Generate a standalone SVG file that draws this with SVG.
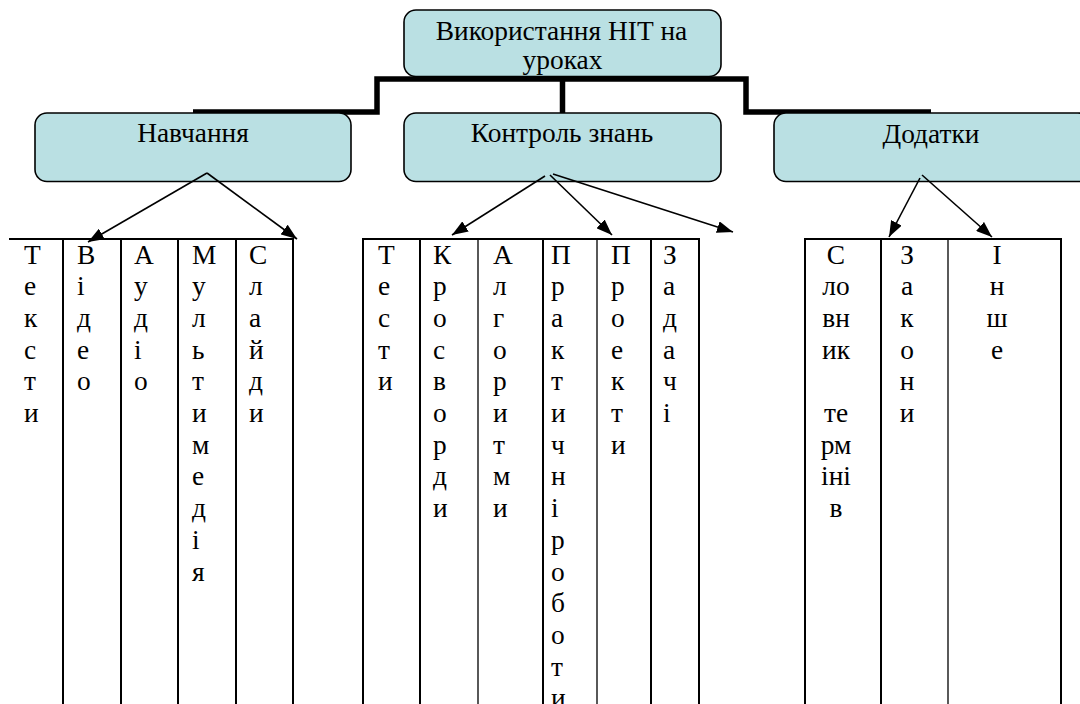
<svg xmlns="http://www.w3.org/2000/svg" width="1080" height="704" viewBox="0 0 1080 704">
<defs>
<style>
.t{font-family:"Liberation Serif","Times New Roman",serif;font-size:27.4px;fill:#000}
.c{text-anchor:middle}
.box{fill:#bae0e3;stroke:#000;stroke-width:1.6}
.thick{fill:none;stroke:#000;stroke-width:5.5;stroke-linejoin:miter}
.arr{fill:none;stroke:#000;stroke-width:1.6}
.grid{stroke:#000;stroke-width:2;fill:none}
.thin{stroke:#000;stroke-width:1.3;fill:none}
</style>
<marker id="ah2" viewBox="0 0 16 12" refX="16" refY="6" markerWidth="16" markerHeight="12" markerUnits="userSpaceOnUse" orient="auto">
<path d="M0,0 L16,6 L0,12 z" fill="#000"/>
</marker>
</defs>
<rect width="1080" height="704" fill="#fff"/>

<g id="tree-links">
<path class="thick" d="M193,112 H377 V79 H746 V112 H931"/>
<path class="thick" d="M562.5,79 V114"/>
</g>

<g id="node-root">
<rect class="box" x="404" y="10" width="317" height="66.5" rx="12"/>
<text class="t c" x="561.5" y="39.5">Використання НІТ на</text>
<text class="t c" x="562.5" y="68.5">уроках</text>
</g>
<g id="node-navchannia">
<rect class="box" x="35" y="113" width="316" height="68.5" rx="12"/>
<text class="t c" x="193" y="142">Навчання</text>
</g>
<g id="node-kontrol">
<rect class="box" x="404" y="113" width="317" height="68.5" rx="12"/>
<text class="t c" x="562" y="142">Контроль знань</text>
</g>
<g id="node-dodatky">
<rect class="box" x="774" y="113" width="316" height="68.5" rx="12"/>
<text class="t c" x="931" y="142.5">Додатки</text>
</g>

<g id="table-navchannia">
<path class="grid" d="M9,239 H294 M63,239 V704 M121,239 V704 M178,239 V704 M236,239 V704 M293,239 V704"/>
<text class="t"><tspan x="24" y="263.5">Т</tspan><tspan x="24" dy="31.7">е</tspan><tspan x="24" dy="31.7">к</tspan><tspan x="24" dy="31.7">с</tspan><tspan x="24" dy="31.7">т</tspan><tspan x="24" dy="31.7">и</tspan></text>
<text class="t"><tspan x="77" y="263.5">В</tspan><tspan x="77" dy="31.7">і</tspan><tspan x="77" dy="31.7">д</tspan><tspan x="77" dy="31.7">е</tspan><tspan x="77" dy="31.7">о</tspan></text>
<text class="t"><tspan x="134" y="263.5">А</tspan><tspan x="134" dy="31.7">у</tspan><tspan x="134" dy="31.7">д</tspan><tspan x="134" dy="31.7">і</tspan><tspan x="134" dy="31.7">о</tspan></text>
<text class="t"><tspan x="192" y="263.5">М</tspan><tspan x="192" dy="31.7">у</tspan><tspan x="192" dy="31.7">л</tspan><tspan x="192" dy="31.7">ь</tspan><tspan x="192" dy="31.7">т</tspan><tspan x="192" dy="31.7">и</tspan><tspan x="192" dy="31.7">м</tspan><tspan x="192" dy="31.7">е</tspan><tspan x="192" dy="31.7">д</tspan><tspan x="192" dy="31.7">і</tspan><tspan x="192" dy="31.7">я</tspan></text>
<text class="t"><tspan x="249" y="263.5">С</tspan><tspan x="249" dy="31.7">л</tspan><tspan x="249" dy="31.7">а</tspan><tspan x="249" dy="31.7">й</tspan><tspan x="249" dy="31.7">д</tspan><tspan x="249" dy="31.7">и</tspan></text>
</g>

<g id="table-kontrol">
<path class="grid" d="M362,239 H700 M363,239 V704 M420,239 V704 M543,239 V704 M651,239 V704 M699,239 V704"/>
<path class="thin" d="M478,239 V704 M597,239 V704"/>
<text class="t"><tspan x="378" y="263.5">Т</tspan><tspan x="378" dy="31.7">е</tspan><tspan x="378" dy="31.7">с</tspan><tspan x="378" dy="31.7">т</tspan><tspan x="378" dy="31.7">и</tspan></text>
<text class="t"><tspan x="433" y="263.5">К</tspan><tspan x="433" dy="31.7">р</tspan><tspan x="433" dy="31.7">о</tspan><tspan x="433" dy="31.7">с</tspan><tspan x="433" dy="31.7">в</tspan><tspan x="433" dy="31.7">о</tspan><tspan x="433" dy="31.7">р</tspan><tspan x="433" dy="31.7">д</tspan><tspan x="433" dy="31.7">и</tspan></text>
<text class="t"><tspan x="493" y="263.5">А</tspan><tspan x="493" dy="31.7">л</tspan><tspan x="493" dy="31.7">г</tspan><tspan x="493" dy="31.7">о</tspan><tspan x="493" dy="31.7">р</tspan><tspan x="493" dy="31.7">и</tspan><tspan x="493" dy="31.7">т</tspan><tspan x="493" dy="31.7">м</tspan><tspan x="493" dy="31.7">и</tspan></text>
<text class="t"><tspan x="551" y="263.5">П</tspan><tspan x="551" dy="31.7">р</tspan><tspan x="551" dy="31.7">а</tspan><tspan x="551" dy="31.7">к</tspan><tspan x="551" dy="31.7">т</tspan><tspan x="551" dy="31.7">и</tspan><tspan x="551" dy="31.7">ч</tspan><tspan x="551" dy="31.7">н</tspan><tspan x="551" dy="31.7">і</tspan><tspan x="551" dy="31.7">р</tspan><tspan x="551" dy="31.7">о</tspan><tspan x="551" dy="31.7">б</tspan><tspan x="551" dy="31.7">о</tspan><tspan x="551" dy="31.7">т</tspan><tspan x="551" dy="31.7">и</tspan></text>
<text class="t"><tspan x="611" y="263.5">П</tspan><tspan x="611" dy="31.7">р</tspan><tspan x="611" dy="31.7">о</tspan><tspan x="611" dy="31.7">е</tspan><tspan x="611" dy="31.7">к</tspan><tspan x="611" dy="31.7">т</tspan><tspan x="611" dy="31.7">и</tspan></text>
<text class="t"><tspan x="663" y="263.5">З</tspan><tspan x="663" dy="31.7">а</tspan><tspan x="663" dy="31.7">д</tspan><tspan x="663" dy="31.7">а</tspan><tspan x="663" dy="31.7">ч</tspan><tspan x="663" dy="31.7">і</tspan></text>
</g>

<g id="table-dodatky">
<path class="grid" d="M804,239 H1062 M805,239 V704 M881,239 V704 M1061,239 V704"/>
<path class="thin" d="M948,239 V704"/>
<text class="t c"><tspan x="836" y="263.5">С</tspan><tspan x="836" dy="31.7">ло</tspan><tspan x="836" dy="31.7">вн</tspan><tspan x="836" dy="31.7">ик</tspan><tspan x="836" dy="63.4">те</tspan><tspan x="836" dy="31.7">рм</tspan><tspan x="836" dy="31.7">іні</tspan><tspan x="836" dy="31.7">в</tspan></text>
<text class="t c"><tspan x="907" y="263.5">З</tspan><tspan x="907" dy="31.7">а</tspan><tspan x="907" dy="31.7">к</tspan><tspan x="907" dy="31.7">о</tspan><tspan x="907" dy="31.7">н</tspan><tspan x="907" dy="31.7">и</tspan></text>
<text class="t c"><tspan x="997" y="263.5">І</tspan><tspan x="997" dy="31.7">н</tspan><tspan x="997" dy="31.7">ш</tspan><tspan x="997" dy="31.7">е</tspan></text>
</g>

<g id="arrows">
<line class="arr" x1="207" y1="173" x2="88" y2="242" marker-end="url(#ah2)"/>
<line class="arr" x1="207" y1="173" x2="297" y2="239" marker-end="url(#ah2)"/>
<line class="arr" x1="545" y1="176" x2="452" y2="235" marker-end="url(#ah2)"/>
<line class="arr" x1="550" y1="175" x2="612" y2="235" marker-end="url(#ah2)"/>
<line class="arr" x1="553" y1="174" x2="733" y2="232" marker-end="url(#ah2)"/>
<line class="arr" x1="920" y1="178" x2="889" y2="237" marker-end="url(#ah2)"/>
<line class="arr" x1="922" y1="175" x2="992" y2="237" marker-end="url(#ah2)"/>
</g>
</svg>
